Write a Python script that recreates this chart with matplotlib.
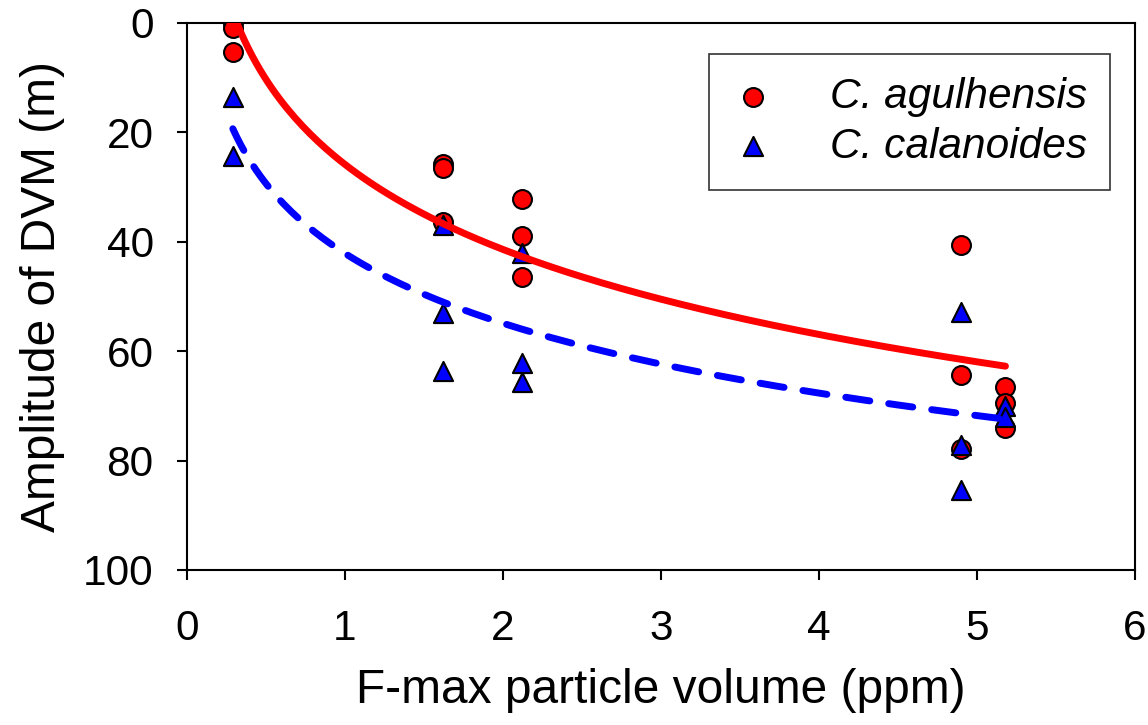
import numpy as np
import matplotlib
matplotlib.use("Agg")
import matplotlib.pyplot as plt

plt.rcParams['font.family'] = ['Liberation Sans', 'DejaVu Sans']

# C. agulhensis (red circles)
agul_x = [0.29, 0.29, 0.29, 1.62, 1.62, 1.62, 2.12, 2.12, 2.12, 4.9, 4.9, 4.9, 5.18, 5.18, 5.18]
agul_y = [0.0, 1.0, 5.3, 25.8, 26.5, 36.3, 32.2, 38.9, 46.4, 40.6, 64.4, 77.8, 66.5, 69.5, 74.0]

# C. calanoides (blue triangles)
cala_x = [0.29, 0.29, 1.62, 1.62, 1.62, 2.12, 2.12, 2.12, 4.9, 4.9, 4.9, 5.18, 5.18]
cala_y = [13.5, 24.3, 37.0, 53.0, 63.7, 42.0, 62.2, 65.6, 52.8, 77.1, 85.4, 70.1, 72.0]

x_ticks = [0, 1, 2, 3, 4, 5, 6]
y_ticks = [0, 20, 40, 60, 80, 100]


# ajuste logaritmico y = a + b*ln(x)
def log_fit(x, y):
    x = np.asarray(x)
    b, a = np.polyfit(np.log(x), np.asarray(y), 1)
    xs = np.linspace(x.min(), x.max(), 200)
    return xs, a + b * np.log(xs)


fig = plt.figure(figsize=(11.48, 7.25), dpi=100)
ax = fig.add_axes([0.1629, 0.2138, 0.8258, 0.7545])

ax.scatter(agul_x, agul_y, s=185, marker='o', facecolor='red', edgecolor='black',
           linewidth=1.5, zorder=3, label='C. agulhensis')
ax.scatter(cala_x, cala_y, s=190, marker='^', facecolor='blue', edgecolor='black',
           linewidth=1.5, zorder=4, label='C. calanoides')

xs, ys = log_fit(agul_x, agul_y)
ax.plot(xs, ys, color='red', lw=5, solid_capstyle='round', zorder=5)
xs, ys = log_fit(cala_x, cala_y)
ax.plot(xs, ys, color='blue', lw=5, dashes=(3.5, 2.75), dash_capstyle='round', zorder=5)

ax.set_xlim(0, 6)
ax.set_ylim(100, 0)
ax.set_xticks(x_ticks)
ax.set_yticks(y_ticks)
ax.tick_params(direction='out', length=7, width=1.5, labelsize=30.5)
ax.tick_params(axis='y', pad=17)
ax.tick_params(axis='x', pad=21)
for sp in ax.spines.values():
    sp.set_linewidth(1.5)

ax.set_xlabel('F-max particle volume (ppm)', fontsize=34.5, labelpad=14)
ax.set_ylabel('Amplitude of DVM (m)', fontsize=34.5, labelpad=13)

leg = ax.legend(loc='upper right', bbox_to_anchor=(0.9736, 0.9433),
                prop={'style': 'italic', 'size': 30.5}, frameon=True, fancybox=False,
                edgecolor='black', borderpad=0.55, handlelength=1.0, handletextpad=1.3,
                labelspacing=0.22, borderaxespad=0, scatterpoints=1, markerscale=1.0)
leg.get_frame().set_linewidth(1.2)

fig.savefig('out.png', dpi=100)
